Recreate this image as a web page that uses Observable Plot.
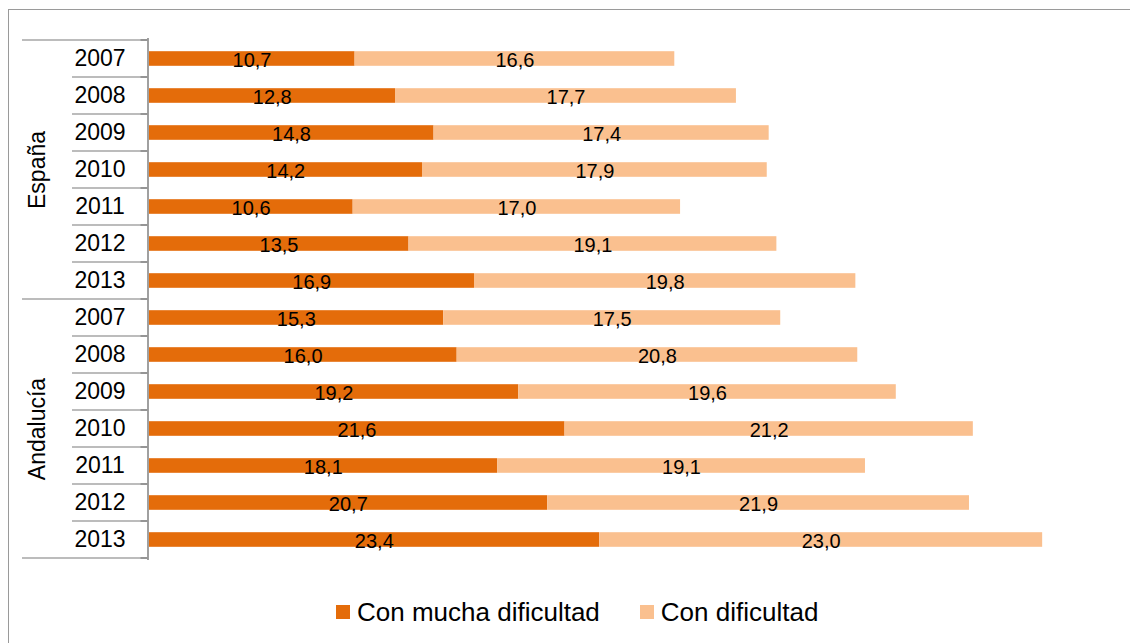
<!DOCTYPE html>
<html>
<head>
<meta charset="utf-8">
<script src="https://cdn.jsdelivr.net/npm/d3@7"></script>
<script src="https://cdn.jsdelivr.net/npm/@observablehq/plot@0.6"></script>
<style>
  html, body { margin: 0; padding: 0; background: #fff; width: 1130px; height: 643px; overflow: hidden; }
  body { position: relative; font-family: "Liberation Sans", Arial, sans-serif; }
  #frame { position: absolute; left: 8px; top: 9px; width: 1200px; height: 700px;
           border-left: 1.5px solid #9a9a9a; border-top: 1.5px solid #9a9a9a; }
  #chart { position: absolute; left: 0; top: 0; }
  #legend { position: absolute; left: 336px; top: 598px; height: 28px; display: flex; align-items: center;
            font-size: 26px; line-height: 28px; color: #000; white-space: nowrap; }
  .sw { width: 14px; height: 14px; margin-right: 7px; }
  .item { display: flex; align-items: center; margin-right: 40px; }
</style>
</head>
<body>
<div id="frame"></div>
<div id="chart"></div>
<div id="legend"></div>
<script>
const groups = ["España", "Andalucía"];
const years = [2007, 2008, 2009, 2010, 2011, 2012, 2013];
const series = ["Con mucha dificultad", "Con dificultad"];
const colors = ["#E46C0A", "#FAC08F"];
const muchaEspana = [10.7, 12.8, 14.8, 14.2, 10.6, 13.5, 16.9];
const dificultadEspana = [16.6, 17.7, 17.4, 17.9, 17.0, 19.1, 19.8];
const muchaAndalucia = [15.3, 16.0, 19.2, 21.6, 18.1, 20.7, 23.4];
const dificultadAndalucia = [17.5, 20.8, 19.6, 21.2, 19.1, 21.9, 23.0];

const valuesBy = {
  "España": [muchaEspana, dificultadEspana],
  "Andalucía": [muchaAndalucia, dificultadAndalucia]
};

const keys = [];
const rows = [];
const yearRows = [];
for (const g of groups) {
  years.forEach((yr, i) => {
    const key = g + " " + yr;
    keys.push(key);
    yearRows.push({group: g, year: yr, key, idx: i});
    series.forEach((s, j) => {
      rows.push({group: g, year: yr, key, serie: s, value: valuesBy[g][j][i]});
    });
  });
}
const groupRows = groups.map(g => ({group: g, key: g + " " + years[3]}));
const fmt = v => d3.format(".1f")(v).replace(".", ",");

const W = 1130, H = 575, MT = 38, MB = 15, ML = 148.5, MR = 18.5;

const plot = Plot.plot({
  width: W, height: H,
  marginTop: MT, marginBottom: MB, marginLeft: ML, marginRight: MR,
  x: {domain: [0, 50], axis: null},
  y: {domain: keys, axis: null, padding: 0},
  color: {domain: series, range: colors},
  style: {fontFamily: "'Liberation Sans', Arial, sans-serif", background: "transparent", overflow: "visible", color: "#000"},
  marks: [
    Plot.barX(rows, {x: "value", y: "key", fill: "serie", insetTop: 11.2, insetBottom: 11.2}),
    Plot.ruleX([0], {stroke: "#a0a0a0", strokeWidth: 2, dx: -1}),
    Plot.text(rows, Plot.stackX({x: "value", y: "key", z: "serie", text: d => fmt(d.value), fontSize: 20, fill: "#000", dy: 2})),
    Plot.text(yearRows, {x: () => 0, y: "key", text: d => String(d.year), dx: -49, fontSize: 23, fill: "#000", textAnchor: "middle"}),
    Plot.text(groupRows, {x: () => 0, y: "key", text: "group", dx: -111, fontSize: 23, fill: "#000", rotate: -90, textAnchor: "middle"})
  ]
});

document.getElementById("chart").appendChild(plot);

// category-axis separators, positioned with the plot's own y scale
const ys = plot.scale("y");
const bw = ys.bandwidth;
const svg = d3.select(plot);
const gLines = svg.append("g");
const bounds = [];
keys.forEach((k, i) => {
  const top = ys.apply(k);
  const isGroupStart = (i % years.length) === 0;
  bounds.push({y: top, x1: isGroupStart ? 22 : 72});
});
bounds.push({y: ys.apply(keys[keys.length - 1]) + bw, x1: 22});
gLines.selectAll("line.sep").data(bounds).join("line")
  .attr("x1", d => d.x1).attr("x2", ML - 1)
  .attr("y1", d => d.y).attr("y2", d => d.y)
  .attr("stroke", "#a6a6a6").attr("stroke-width", 1.5);
gLines.selectAll("line.tick").data(bounds).join("line")
  .attr("x1", ML - 8).attr("x2", ML - 1)
  .attr("y1", d => d.y).attr("y2", d => d.y)
  .attr("stroke", "#888").attr("stroke-width", 1.5);

// legend
const legend = d3.select("#legend");
series.forEach((s, i) => {
  const it = legend.append("div").attr("class", "item");
  it.append("div").attr("class", "sw").style("background", colors[i]);
  it.append("span").text(s);
});
</script>
</body>
</html>
